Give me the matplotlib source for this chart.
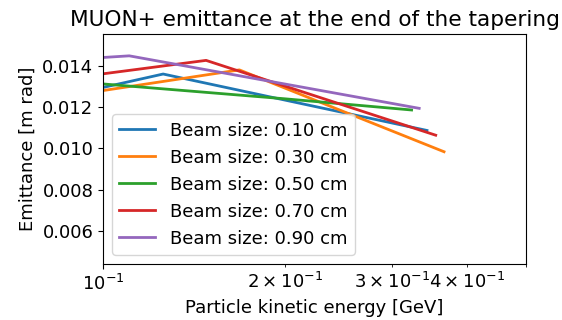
import matplotlib
matplotlib.use("Agg")
import matplotlib.pyplot as plt

plt.rcParams['font.size'] = 13

# energies [GeV] and emittances [m rad] per beam size
labels = ["Beam size: 0.10 cm", "Beam size: 0.30 cm", "Beam size: 0.50 cm",
          "Beam size: 0.70 cm", "Beam size: 0.90 cm"]

e_010 = [0.100, 0.1257, 0.343]
emit_010 = [0.01295, 0.01360, 0.01087]

e_030 = [0.100, 0.168, 0.366]
emit_030 = [0.01280, 0.01380, 0.00984]

e_050 = [0.100, 0.200, 0.3235]
emit_050 = [0.01312, 0.01240, 0.01186]

e_070 = [0.100, 0.148, 0.3546]
emit_070 = [0.01361, 0.01426, 0.01064]

e_090 = [0.100, 0.1105, 0.333]
emit_090 = [0.01440, 0.01448, 0.01194]

energies = [e_010, e_030, e_050, e_070, e_090]
emittances = [emit_010, emit_030, emit_050, emit_070, emit_090]

fig = plt.figure(figsize=(5.62, 3.2), dpi=100)
ax = fig.add_axes([0.1833, 0.175, 0.7527, 0.719])

for e, em, lab in zip(energies, emittances, labels):
    ax.plot(e, em, lw=2, label=lab)

ax.set_xscale('log')
ax.set_xlim(0.1, 0.5)
ax.set_ylim(0.00441, 0.01554)
ax.set_xlabel("Particle kinetic energy [GeV]")
ax.set_ylabel("Emittance [m rad]")
ax.set_title("MUON+ emittance at the end of the tapering")
ax.legend(loc='lower left')

fig.savefig("out.png", dpi=100)
